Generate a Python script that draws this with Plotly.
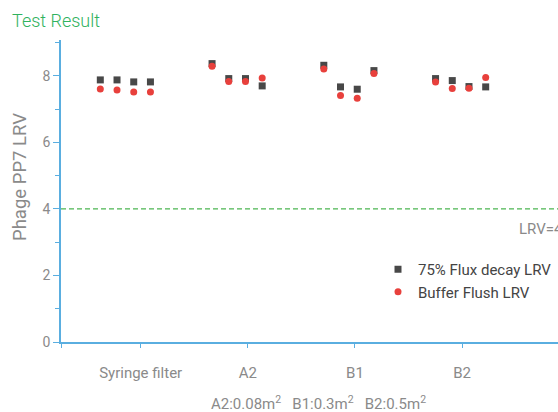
import plotly.graph_objects as go

# ---- data ----
categories = ["Syringe filter", "A2", "B1", "B2"]
flux_decay_lrv = [
    [7.88, 7.88, 7.82, 7.82],   # Syringe filter
    [8.37, 7.92, 7.92, 7.70],   # A2
    [8.32, 7.67, 7.60, 8.16],   # B1
    [7.92, 7.86, 7.68, 7.67],   # B2
]
buffer_flush_lrv = [
    [7.61, 7.58, 7.52, 7.52],
    [8.29, 7.83, 7.83, 7.94],
    [8.21, 7.41, 7.33, 8.07],
    [7.82, 7.62, 7.63, 7.95],
]
threshold_lrv = 4
y_title = "Phage PP7 LRV"
area_note = "A2:0.08m<sup>2</sup>   B1:0.3m<sup>2</sup>   B2:0.5m<sup>2</sup>"

# ---- layout constants ----
GROUP_BASE = 0.857
GROUP_STEP = 1.0433
POINT_STEP = 0.156
AXIS_COLOR = "#5aaee0"
GREY = "#8a8a8a"
FONT = "Roboto"
W, H = 558, 412
ML, MT, MB = 61, 40, 70
PW, PH = W - ML, H - MT - MB

def xs_for(groups):
    xs = []
    for gi, vals in enumerate(groups):
        n = len(vals)
        c = GROUP_BASE + gi * GROUP_STEP
        for k in range(n):
            xs.append(c + (k - (n - 1) / 2) * POINT_STEP)
    return xs

def flat(groups):
    return [v for g in groups for v in g]

fig = go.Figure()
fig.add_trace(go.Scatter(
    x=xs_for(flux_decay_lrv), y=flat(flux_decay_lrv), mode="markers",
    name="75% Flux decay LRV", legendgroup="a",
    marker=dict(symbol="square", size=7, color="#484848"),
))
fig.add_trace(go.Scatter(
    x=xs_for(buffer_flush_lrv), y=flat(buffer_flush_lrv), mode="markers",
    name="Buffer Flush LRV", legendgroup="b",
    marker=dict(symbol="circle", size=7, color="#e8403c"),
))

fig.add_shape(type="line", xref="paper", yref="y", x0=0, x1=1,
              y0=threshold_lrv, y1=threshold_lrv,
              line=dict(color="#4cb552", width=1.2, dash="5px,3px"))

fig.add_annotation(xref="paper", yref="y", x=(517 - ML) / PW, y=3.4, xanchor="left",
                   yanchor="middle", text="LRV=4", showarrow=False,
                   font=dict(family=FONT, size=15, color=GREY))
fig.add_annotation(xref="paper", yref="paper", x=(318 - ML) / PW, y=-61 / PH,
                   xanchor="center", yanchor="middle", text=area_note,
                   showarrow=False, font=dict(family=FONT, size=15, color=GREY))
fig.add_annotation(xref="paper", yref="paper", x=(20 - ML) / PW, y=(342 - 177) / PH,
                   xanchor="center", yanchor="middle", text=y_title, textangle=-90,
                   showarrow=False, font=dict(family=FONT, size=18.5, color=GREY))

fig.update_layout(
    width=W, height=H,
    margin=dict(l=ML, r=0, t=MT, b=MB),
    paper_bgcolor="white", plot_bgcolor="white",
    font=dict(family=FONT, color=GREY),
    title=dict(text="Test Result", x=12 / W, xref="container", xanchor="left",
               y=1 - 21 / H, yref="container", yanchor="middle",
               font=dict(family=FONT, size=18, color="#30b25e", weight=300)),
    legend=dict(x=(378 - ML) / PW, y=(342 - 253) / PH, xanchor="left", yanchor="top",
                font=dict(family=FONT, size=15, color="#444444"),
                tracegroupgap=0, itemwidth=30, bgcolor="rgba(0,0,0,0)"),
    xaxis=dict(range=[0.256, 4.896], showgrid=False, zeroline=False,
               showline=True, linecolor=AXIS_COLOR, linewidth=1.5,
               tickmode="array", tickvals=[0.256, 1, 2, 3, 4],
               ticktext=[" "] + categories,
               ticks="outside", ticklen=4, tickcolor=AXIS_COLOR,
               ticklabelstandoff=12,
               tickfont=dict(family=FONT, size=15, color=GREY)),
    yaxis=dict(range=[0, 9.08], showgrid=False, zeroline=False,
               showline=True, linecolor=AXIS_COLOR, linewidth=1.5,
               tickmode="linear", tick0=0, dtick=2,
               ticks="outside", ticklen=6, tickcolor=AXIS_COLOR,
               minor=dict(dtick=1, ticks="outside", ticklen=4,
                          tickcolor=AXIS_COLOR, showgrid=False),
               tickfont=dict(family=FONT, size=14, color=GREY)),
)

fig.write_html(
    "out.html",
    config={"displayModeBar": False},
    post_script="document.body.style.margin='0';document.body.style.overflow='hidden';",
)
